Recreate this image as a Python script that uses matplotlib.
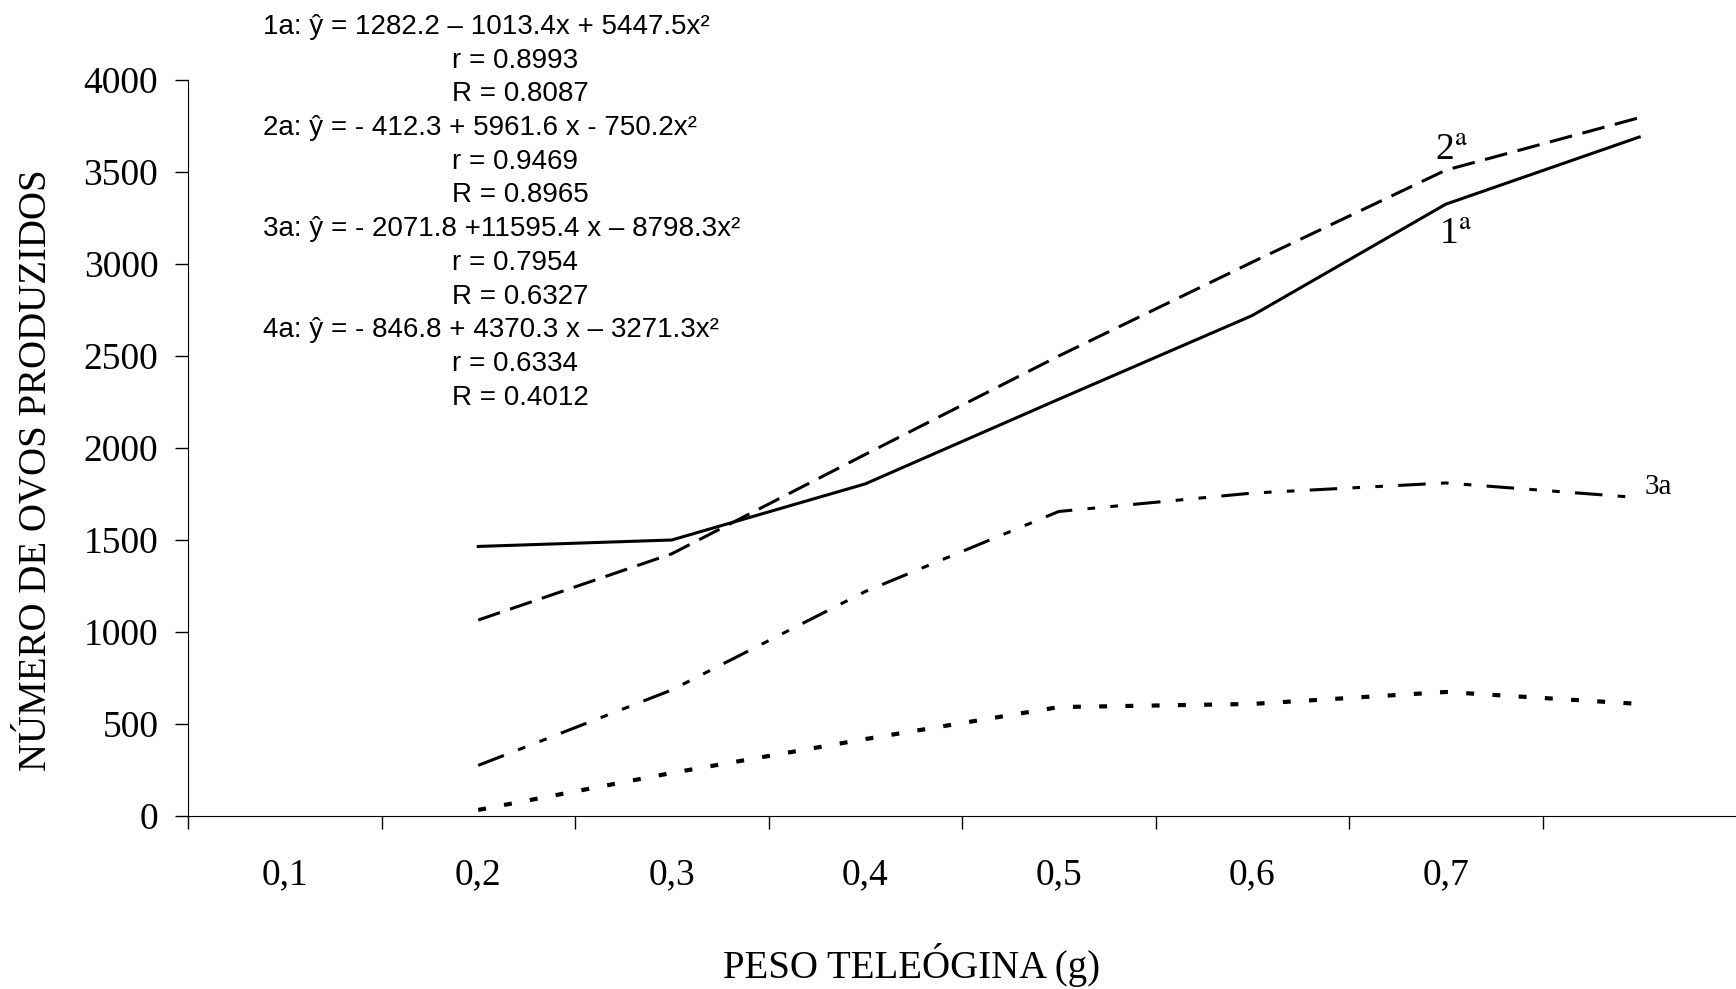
import numpy as np
import matplotlib
matplotlib.use("Agg")
import matplotlib.pyplot as plt

# dados (peso da teleogina x numero de ovos por postura)
peso = [0.2, 0.3, 0.4, 0.5, 0.6, 0.7, 0.8]
postura_1a = [1465, 1500, 1805, 2265, 2720, 3325, 3690]
postura_2a = [1065, 1425, 1965, 2500, 3010, 3510, 3795]
postura_3a = [275, 685, 1220, 1655, 1755, 1810, 1730]
postura_4a = [33, 234, 418, 592, 609, 674, 609]

rotulos_x = ['0,1', '0,2', '0,3', '0,4', '0,5', '0,6', '0,7']
pos_rotulos_x = [0.1, 0.2, 0.3, 0.4, 0.5, 0.6, 0.7]

equacoes = [
    '1a: ŷ = 1282.2 – 1013.4x + 5447.5x²', 'r = 0.8993', 'R = 0.8087',
    '2a: ŷ = - 412.3 + 5961.6 x - 750.2x²', 'r = 0.9469', 'R = 0.8965',
    '3a: ŷ = - 2071.8 +11595.4 x – 8798.3x²', 'r = 0.7954', 'R = 0.6327',
    '4a: ŷ = - 846.8 + 4370.3 x – 3271.3x²', 'r = 0.6334', 'R = 0.4012',
]

plt.rcParams['font.family'] = 'Liberation Serif'
plt.rcParams['mathtext.fontset'] = 'stix'

W, H = 1736, 989
fig = plt.figure(figsize=(W / 100, H / 100), dpi=100)
ax = fig.add_axes([188 / W, 1 - 816 / H, 1 - 188 / W, (816 - 80) / H])

lw = 2.2
ax.plot(peso, postura_1a, color='black', lw=lw, solid_joinstyle='miter')
ax.plot(peso, postura_2a, color='black', lw=lw, linestyle=(0, (7.5, 3.5)))
ax.plot(peso, postura_3a, color='black', lw=lw,
        linestyle=(0, (9, 5, 2.5, 5, 2.5, 5)))
ax.plot(peso, postura_4a, color='black', lw=3.0, linestyle=(0, (1.9, 4.4)))

ax.set_xlim(0.05, 0.85)
ax.set_ylim(0, 4000)
ax.spines['top'].set_visible(False)
ax.spines['right'].set_visible(False)

ax.set_yticks(np.arange(0, 4001, 500))
ax.tick_params(axis='y', direction='out', length=9.4, width=1, pad=12,
               labelsize=27)
ax.set_xticks(np.arange(0.05, 0.80, 0.1))
ax.set_xticklabels([])
ax.set_xticks(pos_rotulos_x, minor=True)
ax.set_xticklabels(rotulos_x, minor=True)
ax.tick_params(axis='x', which='major', direction='out', length=9.4, width=1)
ax.tick_params(axis='x', which='minor', length=0, pad=30, labelsize=27)

# rotulos das curvas
ax.text(0.703, 3520, '2$^{\\rm a}$', fontsize=27, ha='center', va='bottom')
ax.text(0.705, 3250, '1$^{\\rm a}$', fontsize=27, ha='center', va='top')
ax.text(0.803, 1790, '3a', fontsize=21, ha='left', va='center')

fig.text(37 / W, 1 - 470 / H, 'NÚMERO DE OVOS PRODUZIDOS', rotation=90,
         fontsize=28, ha='center', va='center')
fig.text(912 / W, 1 - 965 / H, 'PESO TELEÓGINA (g)', fontsize=28,
         ha='center', va='center')

# equacoes de regressao
for i, linha in enumerate(equacoes):
    x0 = 263 if i % 3 == 0 else 452
    fig.text(x0 / W, 1 - (27 + 33.7 * i) / H, linha, family='Liberation Sans',
             fontsize=20, ha='left', va='center')

fig.savefig('out.png', dpi=100)
